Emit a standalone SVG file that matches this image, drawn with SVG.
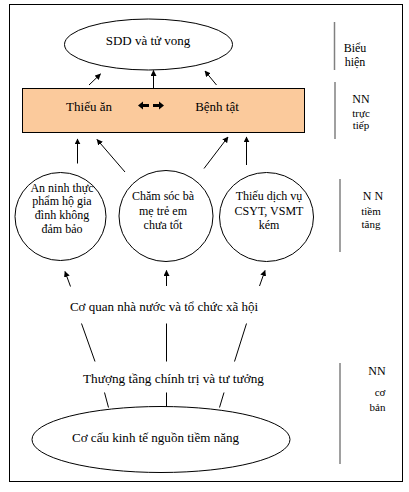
<svg xmlns="http://www.w3.org/2000/svg" width="409" height="492" viewBox="0 0 409 492">
<defs>
<style>
text{font-family:"Liberation Serif","Times New Roman",serif;fill:#000}
.t13{font-size:13px}
.t12{font-size:12px}
.t11{font-size:11px}
.ln{stroke:#000;stroke-width:1;fill:none}
.ar{stroke:#000;stroke-width:1;fill:none;marker-end:url(#ah)}
.sep{stroke:#808080;stroke-width:1.5}
.shape{fill:#fff;stroke:#000;stroke-width:1}
</style>
<marker id="ah" viewBox="0 0 10 10" refX="9" refY="5" markerWidth="6" markerHeight="6" markerUnits="userSpaceOnUse" orient="auto">
<path d="M0,0 L10,5 L0,10 Z" fill="#000"/>
</marker>
</defs>
<rect x="0" y="0" width="409" height="492" fill="#fff"/>
<rect x="9.5" y="4.5" width="393" height="477" fill="none" stroke="#000" stroke-width="1"/>

<g id="n-sdd">
<ellipse class="shape" cx="148.5" cy="44.5" rx="84" ry="25.5"/>
<text class="t13" x="148" y="45" text-anchor="middle">SDD và tử vong</text>
</g>

<g id="n-truc-tiep">
<rect x="22.5" y="88.5" width="282" height="44" fill="#FBCA9C" stroke="#000" stroke-width="1"/>
<text class="t13" x="89" y="111" text-anchor="middle">Thiếu ăn</text>
<text class="t13" x="217" y="111" text-anchor="middle">Bệnh tật</text>
<path d="M138,105.5 L143,101.5 L143,104 L149,104 L149,107 L143,107 L143,109.5 Z" fill="#000"/>
<path d="M164,105.5 L159,101.5 L159,104 L153,104 L153,107 L159,107 L159,109.5 Z" fill="#000"/>
</g>

<g id="n-an-ninh">
<ellipse class="shape" cx="60.5" cy="216.5" rx="45.5" ry="44"/>
<text class="t12" text-anchor="middle"><tspan x="62" y="191.5">An ninh thực</tspan><tspan x="62" y="205">phẩm hộ gia</tspan><tspan x="62" y="218.5">đình không</tspan><tspan x="62" y="232.5">đảm bảo</tspan></text>
</g>

<g id="n-cham-soc">
<ellipse class="shape" cx="166" cy="216" rx="47" ry="45.5"/>
<text class="t12" text-anchor="middle"><tspan x="163" y="200">Chăm sóc bà</tspan><tspan x="163" y="215">mẹ trẻ em</tspan><tspan x="163" y="229">chưa tốt</tspan></text>
</g>

<g id="n-thieu-dv">
<ellipse class="shape" cx="266.5" cy="217" rx="47" ry="44.5"/>
<text class="t12" text-anchor="middle"><tspan x="269" y="200">Thiếu dịch vụ</tspan><tspan x="269" y="215">CSYT, VSMT</tspan><tspan x="269" y="229">kém</tspan></text>
</g>

<g id="n-co-quan">
<text class="t13" x="164" y="310.5" text-anchor="middle">Cơ quan nhà nước và tổ chức xã hội</text>
</g>

<g id="n-thuong-tang">
<text class="t13" x="173.5" y="382.5" text-anchor="middle" textLength="181" lengthAdjust="spacingAndGlyphs">Thượng tầng chính trị và tư tưởng</text>
</g>

<g id="n-co-cau">
<ellipse class="shape" cx="161" cy="439.5" rx="129" ry="33"/>
<text class="t13" x="155.5" y="441.5" text-anchor="middle" textLength="167" lengthAdjust="spacingAndGlyphs">Cơ cấu kinh tế nguồn tiềm năng</text>
</g>

<g id="labels">
<line class="sep" x1="334.5" y1="22" x2="334.5" y2="70"/>
<text class="t12" x="355" y="51.5" text-anchor="middle">Biểu</text>
<text class="t12" x="355" y="65.5" text-anchor="middle">hiện</text>
<line class="sep" x1="335" y1="82" x2="335" y2="139"/>
<text class="t12" x="361" y="103" text-anchor="middle">NN</text>
<text class="t11" x="361" y="117" text-anchor="middle">trực</text>
<text class="t11" x="361" y="129" text-anchor="middle">tiếp</text>
<line class="sep" x1="340" y1="179" x2="340" y2="252"/>
<text class="t12" x="373" y="200" text-anchor="middle">N N</text>
<text class="t11" x="371" y="215" text-anchor="middle">tiềm</text>
<text class="t11" x="371" y="228" text-anchor="middle">tăng</text>
<line class="sep" x1="340" y1="363" x2="340" y2="464"/>
<text class="t12" x="377" y="375" text-anchor="middle">NN</text>
<text class="t11" x="380" y="396" text-anchor="middle">cơ</text>
<text class="t11" x="377.5" y="410.5" text-anchor="middle">bản</text>
</g>

<g id="connectors">
<line class="ar" x1="89" y1="85" x2="100.5" y2="74"/>
<line class="ar" x1="153.5" y1="88" x2="153.5" y2="70.5"/>
<line class="ar" x1="216.5" y1="85" x2="205" y2="71"/>
<line class="ar" x1="77.5" y1="163.5" x2="77.5" y2="139"/>
<line class="ar" x1="125" y1="172" x2="97" y2="139.5"/>
<line class="ar" x1="204" y1="168.5" x2="228" y2="137"/>
<line class="ar" x1="246.5" y1="165" x2="246.5" y2="137"/>
<line class="ar" x1="70.5" y1="286.5" x2="65" y2="271.5"/>
<line class="ar" x1="166.5" y1="286" x2="166.5" y2="270.5"/>
<line class="ar" x1="259.5" y1="286" x2="265" y2="270.5"/>
<line class="ln" x1="81.5" y1="323.5" x2="95" y2="361.5"/>
<line class="ln" x1="166.5" y1="323.5" x2="166.5" y2="361.5"/>
<line class="ln" x1="246.5" y1="323.5" x2="234.5" y2="361.5"/>
<line class="ln" x1="104.5" y1="392.5" x2="108.5" y2="407.5"/>
<line class="ln" x1="166.5" y1="392.5" x2="166.5" y2="406.5"/>
<line class="ln" x1="224" y1="392.5" x2="219.5" y2="407.5"/>
</g>
</svg>
